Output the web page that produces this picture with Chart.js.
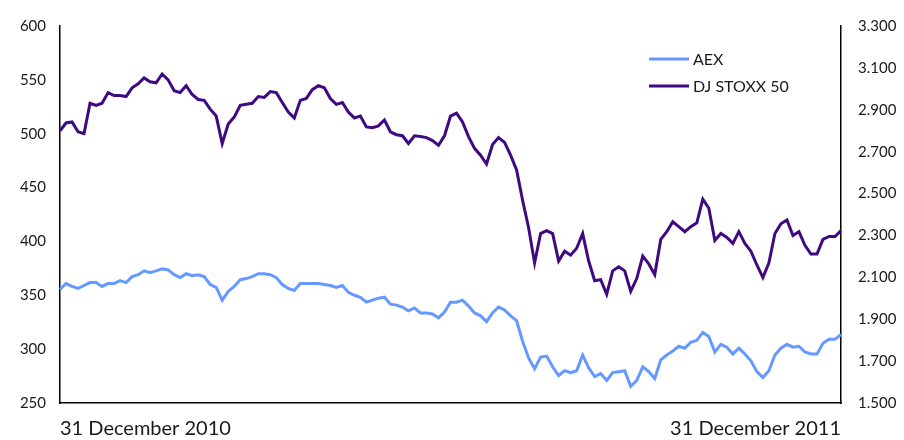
<!DOCTYPE html>
<html>
<head>
<meta charset="utf-8">
<script src="https://cdn.jsdelivr.net/npm/chart.js@4"></script>
<style>
  html, body { margin: 0; padding: 0; background: #fff; }
  #wrap { width: 904px; height: 440px; }
</style>
</head>
<body>
<div id="wrap"><canvas id="koers"></canvas></div>
<script>
// Labels of the x axis (only first and last day are shown)
const xLabels = ['31 December 2010', '31 December 2011'];

// AEX (about every two trading days)
const aex = [
  355.5, 360.9, 358.2, 356.4, 359.1, 361.8, 361.8, 358.2, 360.9, 360.9,
  363.6, 361.8, 367.3, 369.1, 372.7, 370.9, 372.7, 374.5, 373.6, 369.1,
  366.4, 370.0, 368.2, 369.1, 367.3, 360.0, 357.3, 345.5, 353.6, 358.2,
  364.5, 365.5, 367.3, 370.0, 370.0, 369.1, 366.4, 360.0, 356.4, 354.5,
  360.9, 360.9, 360.9, 360.9, 360.0, 359.1, 357.3, 359.1, 352.7, 350.0,
  348.2, 343.6, 345.5, 347.3, 348.2, 341.8, 340.9, 339.1, 335.5, 338.2,
  333.6, 333.6, 332.7, 329.1, 334.5, 343.6, 343.6, 345.5, 340.0, 333.6,
  330.9, 325.5, 333.6, 339.1, 336.4, 330.9, 326.4, 307.3, 291.8, 281.8,
  292.7, 293.6, 283.6, 275.5, 280.0, 278.2, 280.0, 294.5, 282.7, 274.5,
  277.3, 270.9, 278.2, 279.1, 280.0, 265.5, 270.9, 283.6, 279.1, 272.7,
  290.0, 294.5, 298.2, 302.7, 300.9, 306.4, 308.2, 315.5, 311.8, 297.3,
  304.5, 301.8, 295.5, 300.9, 295.5, 289.1, 279.1, 273.6, 280.0, 294.5,
  300.9, 304.5, 301.8, 302.7, 297.3, 295.5, 295.5, 305.5, 309.1, 309.1,
  313.6
];

// DJ STOXX 50
const djStoxx = [
  2800, 2837, 2842, 2795, 2786, 2931, 2921, 2931, 2982, 2968,
  2968, 2963, 3005, 3024, 3052, 3034, 3029, 3071, 3043, 2991,
  2982, 3015, 2973, 2949, 2945, 2903, 2870, 2739, 2832, 2865,
  2921, 2926, 2931, 2963, 2959, 2987, 2982, 2935, 2889, 2861,
  2945, 2954, 2996, 3015, 3005, 2954, 2926, 2935, 2889, 2861,
  2870, 2818, 2814, 2823, 2851, 2795, 2781, 2776, 2739, 2776,
  2772, 2767, 2753, 2730, 2776, 2870, 2884, 2842, 2772, 2716,
  2683, 2641, 2734, 2767, 2744, 2683, 2613, 2468, 2337, 2169,
  2309, 2323, 2309, 2178, 2225, 2206, 2239, 2309, 2178, 2084,
  2089, 2019, 2131, 2150, 2131, 2033, 2094, 2201, 2164, 2113,
  2281, 2318, 2365, 2342, 2318, 2342, 2360, 2473, 2430, 2276,
  2309, 2290, 2262, 2318, 2262, 2225, 2159, 2099, 2169, 2309,
  2356, 2374, 2300, 2318, 2253, 2211, 2211, 2281, 2295, 2295,
  2323
];

const leftTicks = { min: 250, max: 600, step: 50 };
const rightTicks = { min: 1500, max: 3300, step: 200 };

const labels = aex.map((v, i) => i === 0 ? xLabels[0] : (i === aex.length - 1 ? xLabels[1] : ''));

const tekst = '#1a1a1a';
const lettertype = 'Lato, "Open Sans", sans-serif';

// Legenda binnen het grafiekvlak, rechtsboven
const legendaPlugin = {
  id: 'legenda',
  afterDraw(chart) {
    const ctx = chart.ctx;
    const area = chart.chartArea;
    const x0 = area.right - 192;
    let y = area.top + 33;
    ctx.save();
    ctx.font = '16px ' + lettertype;
    ctx.textBaseline = 'middle';
    chart.data.datasets.forEach(ds => {
      ctx.strokeStyle = ds.borderColor;
      ctx.lineWidth = 3;
      ctx.beginPath();
      ctx.moveTo(x0, y);
      ctx.lineTo(x0 + 40, y);
      ctx.stroke();
      ctx.fillStyle = tekst;
      ctx.fillText(ds.label, x0 + 44, y + 1);
      y += 27;
    });
    ctx.restore();
  }
};

function punten(v) {
  const s = String(Math.round(v));
  return s.length > 3 ? s.slice(0, -3) + '.' + s.slice(-3) : s;
}

new Chart(document.getElementById('koers'), {
  type: 'line',
  data: {
    labels: labels,
    datasets: [{
      label: 'AEX',
      data: aex,
      yAxisID: 'y',
      borderColor: '#6699ff',
      borderWidth: 3,
      pointRadius: 0,
      tension: 0
    }, {
      label: 'DJ STOXX 50',
      data: djStoxx,
      yAxisID: 'y1',
      borderColor: '#3f0a80',
      borderWidth: 3,
      pointRadius: 0,
      tension: 0
    }]
  },
  options: {
    responsive: true,
    maintainAspectRatio: false,
    animation: false,
    layout: { padding: { top: 18, right: 0, left: 0, bottom: 0 } },
    plugins: {
      legend: { display: false },
      tooltip: { enabled: false }
    },
    scales: {
      x: {
        grid: { display: false, drawTicks: false },
        border: { display: true, color: '#000', width: 1.5 },
        ticks: {
          autoSkip: false,
          maxRotation: 0,
          align: 'inner',
          padding: 14,
          color: tekst,
          font: { family: lettertype, size: 20 },
          callback: function (value, index) { return this.getLabelForValue(value); }
        },
        afterFit: s => { s.height = 37; }
      },
      y: {
        position: 'left',
        min: leftTicks.min,
        max: leftTicks.max,
        grid: { display: false, drawTicks: false },
        border: { display: true, color: '#000', width: 1.5 },
        ticks: {
          stepSize: leftTicks.step,
          padding: 14,
          color: tekst,
          font: { family: lettertype, size: 15 }
        },
        afterFit: s => { s.width = 60; }
      },
      y1: {
        position: 'right',
        min: rightTicks.min,
        max: rightTicks.max,
        grid: { display: false, drawTicks: false },
        border: { display: true, color: '#000', width: 1.5 },
        ticks: {
          stepSize: rightTicks.step,
          padding: 17,
          color: tekst,
          font: { family: lettertype, size: 15 },
          callback: v => punten(v)
        },
        afterFit: s => { s.width = 63; }
      }
    }
  },
  plugins: [legendaPlugin]
});
</script>
</body>
</html>
